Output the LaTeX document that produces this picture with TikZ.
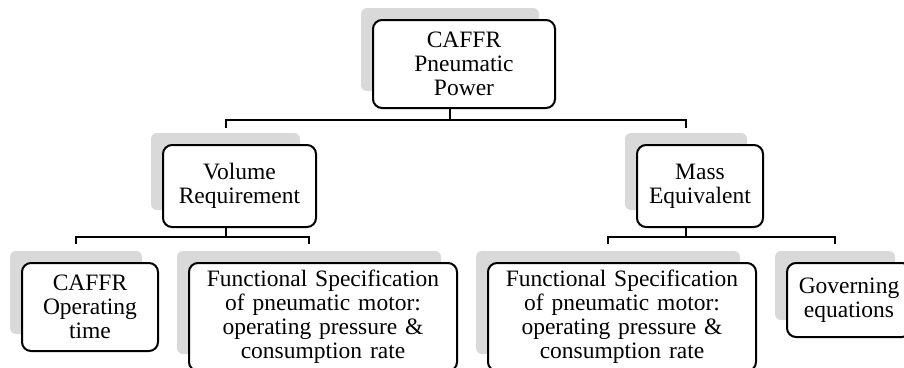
\documentclass[tikz,border=0pt]{standalone}
\usepackage{fontspec}
\setmainfont{Liberation Serif}
\usetikzlibrary{backgrounds}
\tikzset{
  box/.style={draw, line width=2pt, rounded corners=9pt, fill=white, align=center,
    inner sep=0pt, font=\fontsize{23.5}{24}\selectfont},
  shadowbox/.style={fill=black!15, rounded corners=6pt},
  link/.style={line width=2pt},
}

\begin{document}
\begin{tikzpicture}[x=1pt,y=-1pt]
\useasboundingbox (0,0) rectangle (904,367);
% Boxes:
\node (Power) [box, text width=182pt, minimum height=88pt] at (464,64) {CAFFR\\Pneumatic\\Power};
\node (Volume) [box, text width=153pt, minimum height=82pt] at (239.5,186) {Volume\\Requirement};
\node (Mass) [box, text width=126pt, minimum height=82pt] at (700,186) {Mass\\Equivalent};
\node (Optime) [box, text width=136pt, minimum height=88pt] at (90,307) {CAFFR\\Operating\\time};
\node (SpecL) [box, text width=268pt, minimum height=108pt] at (323,317) {Functional Specification\\of pneumatic motor:\\operating pressure \&\\consumption rate};
\node (SpecR) [box, text width=268pt, minimum height=108pt] at (622,317) {Functional Specification\\of pneumatic motor:\\operating pressure \&\\consumption rate};
\node (Gov) [box, text width=124pt, minimum height=74pt] at (849,300) {Governing\\equations};
% Shadows:
\begin{pgfonlayer}{background}
\fill[shadowbox] ([shift={(-11,-11)}]Power.north west) rectangle ([shift={(-17,-18)}]Power.south east);
\fill[shadowbox] ([shift={(-11,-11)}]Volume.north west) rectangle ([shift={(-17,-18)}]Volume.south east);
\fill[shadowbox] ([shift={(-11,-11)}]Mass.north west) rectangle ([shift={(-17,-18)}]Mass.south east);
\fill[shadowbox] ([shift={(-11,-11)}]Optime.north west) rectangle ([shift={(-17,-18)}]Optime.south east);
\fill[shadowbox] ([shift={(-11,-11)}]SpecL.north west) rectangle ([shift={(-17,-18)}]SpecL.south east);
\fill[shadowbox] ([shift={(-11,-11)}]SpecR.north west) rectangle ([shift={(-17,-18)}]SpecR.south east);
\fill[shadowbox] ([shift={(-11,-11)}]Gov.north west) rectangle ([shift={(-17,-18)}]Gov.south east);
\end{pgfonlayer}
% Links:
\draw[link] ([xshift=-14pt]Power.south) -- ++(0,11) -| ([xshift=-14pt,yshift=16pt]Volume.north);
\draw[link] ([xshift=-14pt]Power.south) ++(0,11) -| ([xshift=-14pt,yshift=16pt]Mass.north);
\draw[link] ([xshift=-14pt]Volume.south) -- ++(0,9) -| ([xshift=-14pt,yshift=18pt]Optime.north);
\draw[link] ([xshift=-14pt]Volume.south) ++(0,9) -| ([xshift=-14pt,yshift=18pt]SpecL.north);
\draw[link] ([xshift=-14pt]Mass.south) -- ++(0,9) -| ([xshift=-14pt,yshift=18pt]SpecR.north);
\draw[link] ([xshift=-14pt]Mass.south) ++(0,9) -| ([xshift=-14pt,yshift=18pt]Gov.north);
\end{tikzpicture}
\end{document}
